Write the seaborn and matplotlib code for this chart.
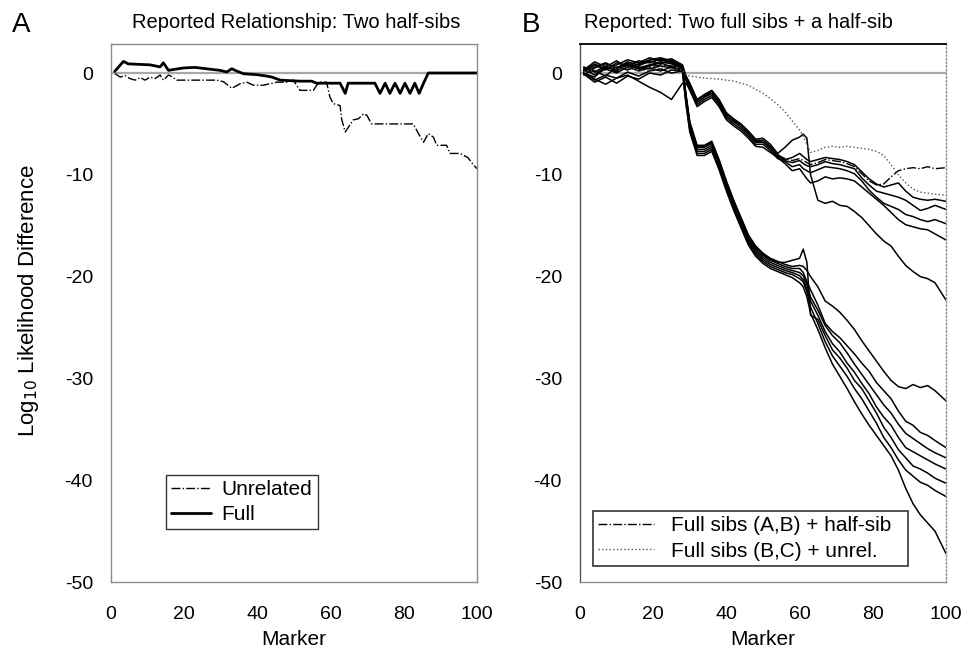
import matplotlib
matplotlib.use("Agg")
import matplotlib.pyplot as plt
import seaborn as sns
import pandas as pd

# ---- panel A: reported two half-sibs ----
a_full_x = [1, 3.4, 4.7, 10.7, 13.4, 14.3, 15.7, 18, 20, 23, 26, 29.8, 31.6, 33, 34.3, 36.2, 39.8, 42.5, 44, 46.2,
            51.6, 54.8, 56.2, 62.6, 64, 64.8, 72.1, 73.5, 74.9, 76.2, 77.6, 79, 80.3, 81.7, 83, 84.2, 85.4, 86.7, 100]
a_full_y = [0.16, 1.14, 0.9, 0.8, 0.6, 1.0, 0.26, 0.4, 0.5, 0.55, 0.42, 0.26, 0.1, 0.42, 0.2, -0.07, -0.16, -0.3, -0.4, -0.7,
            -0.8, -0.8, -1.0, -1.0, -2.0, -1.0, -1.0, -2.0, -1.0, -2.0, -1.0, -2.0, -1.0, -2.0, -1.0, -2.0, -1.0, 0.0, 0.0]

a_unrel_x = [1.1, 2.5, 3.8, 5.2, 6.6, 8, 9.3, 10.7, 12, 13.4, 14.3, 15.7, 16.6, 18, 28.9, 30.7, 33, 35.3, 37.1, 38.9,
             41.6, 43.4, 45.3, 48, 49.8, 51.6, 55.3, 56.2, 57.1, 58.9, 59.8, 60.7, 62.6, 63, 64, 66.2, 67.6, 69, 69.9, 71.2,
             82.6, 84, 85.4, 86.7, 88.1, 89, 91.7, 92.6, 95.4, 97.5, 99, 100]
a_unrel_y = [-0.07, -0.4, -0.25, -0.55, -0.7, -0.45, -0.7, -0.4, -0.55, -0.2, -0.7, -0.2, -0.35, -0.7, -0.7, -0.85, -1.5, -1.05, -0.9, -1.2,
             -1.2, -1.05, -0.9, -0.9, -0.7, -1.7, -1.7, -1.2, -0.9, -0.9, -2.35, -3.0, -3.2, -4.5, -5.8, -4.6, -4.5, -4.0, -4.15, -5.0,
             -5.0, -5.95, -6.8, -5.95, -6.3, -7.1, -7.1, -7.9, -7.9, -8.3, -9.0, -9.4]

# ---- panel B: reported two full sibs + a half-sib ----
b_markers = [1, 4, 7, 10, 13, 16, 19, 22, 25, 28, 29, 30, 32, 34, 36, 38, 40, 42, 44, 46,
             48, 50, 52, 54, 56, 58, 60, 61, 62, 63, 65, 67, 69, 71, 73, 75, 77, 79, 81, 83,
             85, 87, 89, 91, 93, 95, 97, 100]

# steep group
b_s1 = [0.2, 0.8, 0.3, 1.0, 0.7, 1.2, 1.0, 1.4, 1.1, 0.6,
        -2.2, -4.8, -7.1, -7.1, -6.7, -8.5, -10.6, -12.5, -14.2, -15.9, -17.0, -17.7, -18.2, -18.5, -18.8, -19.0,
        -18.9, -19.0, -19.4, -20.0, -21.0, -22.4, -22.9, -23.5, -24.3, -25.2, -26.3, -27.3, -28.3, -29.3, -30.2,
        -30.8, -31.0, -30.6, -30.9, -30.7, -31.2, -32.2]
b_s2 = [0.0, -0.4, 0.6, 0.2, 0.9, 0.5, 0.8, 1.1, 0.9, 0.4,
        -2.4, -5.0, -7.3, -7.3, -6.9, -8.7, -10.8, -12.7, -14.4, -16.1, -17.2, -17.9, -18.4, -18.7, -19.0, -19.2,
        -19.2, -19.6, -20.5, -21.3, -22.8, -24.6, -25.4, -26.0, -26.8, -27.6, -28.5, -29.3, -30.4, -31.2, -32.0,
        -33.2, -34.2, -34.6, -35.3, -35.6, -36.1, -36.8]
b_s3 = [0.5, 0.2, -0.3, 0.6, 0.3, 0.7, 1.2, 0.9, 1.3, 0.5,
        -2.6, -5.2, -7.5, -7.5, -7.1, -8.9, -11.0, -12.9, -14.6, -16.3, -17.4, -18.1, -18.6, -18.9, -19.2, -19.4,
        -19.6, -19.9, -20.8, -22.0, -23.3, -24.8, -25.8, -26.5, -27.5, -28.6, -29.6, -30.6, -31.6, -32.6, -33.4,
        -34.5, -35.4, -35.9, -36.4, -36.9, -37.3, -37.8]
b_s4 = [-0.2, 0.5, 0.9, 0.4, 1.0, 0.6, 0.4, 0.7, 0.5, 0.3,
        -2.8, -5.4, -7.7, -7.7, -7.3, -9.1, -11.2, -13.1, -14.8, -16.5, -17.6, -18.3, -18.8, -19.1, -19.4, -19.6,
        -19.9, -20.3, -21.2, -22.4, -23.8, -25.4, -26.6, -27.4, -28.5, -29.4, -30.5, -31.5, -32.8, -33.8, -34.6,
        -35.8, -36.8, -37.2, -37.6, -38.0, -38.4, -38.9]
b_s5 = [0.3, 1.1, 0.6, 1.2, 0.5, 0.9, 1.3, 1.5, 1.2, 0.7,
        -2.3, -4.9, -7.2, -7.2, -6.8, -8.6, -10.7, -12.6, -14.3, -16.0, -17.1, -17.8, -18.3, -18.6, -18.6, -18.4,
        -18.2, -17.3, -18.6, -23.8, -24.2, -25.8, -27.2, -28.0, -29.0, -30.2, -31.0, -32.2, -33.4, -34.8, -35.8,
        -37.0, -37.8, -38.6, -38.9, -39.3, -39.8, -40.3]
b_s6 = [0.0, -0.7, -0.2, -0.5, 0.1, -0.3, 0.2, 0.4, 0.0, 0.2,
        -3.0, -5.6, -7.9, -7.9, -7.5, -9.3, -11.4, -13.3, -15.0, -16.7, -17.8, -18.5, -19.0, -19.3, -19.6, -19.8,
        -20.2, -20.5, -21.5, -23.0, -24.6, -26.4, -27.8, -28.8, -29.8, -31.0, -32.0, -33.2, -34.4, -35.8, -36.8,
        -38.0, -39.0, -39.6, -40.2, -40.5, -41.0, -41.6]
b_s7 = [0.4, -0.2, 0.4, 0.0, 0.6, 0.2, 0.5, 0.2, 0.6, 0.1,
        -3.2, -5.8, -8.1, -8.1, -7.7, -9.5, -11.6, -13.5, -15.2, -16.9, -18.0, -18.7, -19.2, -19.5, -19.8, -20.1,
        -20.6, -21.0, -22.0, -23.6, -25.2, -27.0, -28.6, -29.8, -31.0, -32.3, -33.5, -34.6, -35.6, -36.6, -37.6,
        -39.0, -40.8, -42.3, -43.4, -44.2, -45.0, -47.2]

# slower group
b_g1 = [0.1, 0.6, 1.0, 0.5, 1.1, 0.8, 1.1, 1.3, 1.0, 0.5,
        -0.4, -1.1, -2.7, -2.2, -1.8, -2.7, -4.0, -4.6, -5.1, -5.8, -6.6, -6.6, -7.2,
        -8.0, -8.5, -8.3, -7.9, -8.2, -8.5, -8.7, -8.5, -8.3, -8.4, -8.5, -8.7, -9.0, -9.7, -10.4, -10.9, -11.2,
        -11.0, -10.8, -11.6, -12.2, -12.4, -12.5, -12.4, -12.6]
b_g2 = [-0.1, -0.9, -0.4, -1.0, -0.3, -0.6, 0.0, -0.2, 0.3, 0.2,
        -0.6, -1.3, -2.9, -2.4, -2.0, -2.9, -4.2, -4.8, -5.3, -6.0, -6.8, -6.8, -7.4,
        -8.2, -8.6, -8.8, -8.6, -8.9, -9.1, -9.2, -9.0, -8.7, -8.9, -9.0, -9.2, -9.4, -10.3, -11.0, -11.6, -11.8,
        -12.0, -12.2, -12.5, -13.0, -13.5, -13.3, -13.0, -13.4]
b_g3 = [0.6, 0.1, 0.7, 0.3, 0.8, 0.4, 0.7, 1.0, 0.6, 0.3,
        -0.8, -1.5, -3.1, -2.6, -2.2, -3.1, -4.4, -5.0, -5.5, -6.2, -7.0, -7.0, -7.6,
        -8.4, -8.7, -9.2, -9.0, -9.4, -9.6, -9.8, -9.5, -9.2, -9.3, -9.4, -9.6, -9.9, -10.6, -11.5, -12.2, -12.8,
        -13.1, -13.4, -13.9, -14.1, -14.4, -14.6, -14.4, -14.8]
b_g4 = [0.0, -0.6, -1.1, -0.5, -0.2, -0.8, -1.4, -1.9, -2.6, -1.0,
        -1.0, -1.7, -3.3, -2.8, -2.4, -3.3, -4.6, -5.2, -5.7, -6.4, -7.2, -7.3, -7.8,
        -8.3, -8.9, -9.6, -9.4, -9.9, -10.4, -10.8, -10.6, -10.2, -10.4, -10.3, -10.4, -10.6, -11.2, -11.8, -12.4, -13.0,
        -13.7, -14.4, -14.9, -15.1, -15.3, -15.4, -15.8, -16.4]
b_g5 = [0.2, 0.9, 0.4, 0.8, 1.3, 1.0, 1.5, 1.2, 1.4, 0.8,
        -0.3, -1.0, -2.6, -2.1, -1.7, -2.6, -3.9, -4.5, -5.0, -5.7, -6.5, -6.4, -7.0,
        -7.9, -7.3, -6.6, -6.3, -6.0, -6.4, -10.0, -12.5, -12.8, -12.6, -13.0, -13.1, -13.6, -14.2, -15.0, -15.8, -16.5,
        -17.0, -18.0, -18.9, -19.5, -20.0, -20.2, -20.6, -22.3]

# highlighted alternatives
b_ab_half = [0.3, 0.0, 0.5, 0.1, 0.6, 0.3, 0.6, 0.8, 0.7, 0.4,
             -0.5, -1.2, -2.8, -2.3, -1.9, -2.8, -4.1, -4.7, -5.2, -5.9, -6.7, -6.7, -7.3,
             -8.1, -8.4, -8.6, -8.4, -8.6, -8.8, -9.0, -8.8, -8.5, -8.6, -8.7, -8.9, -9.2, -9.9, -10.6, -11.0, -10.9,
             -10.2, -9.6, -9.4, -9.3, -9.4, -9.2, -9.4, -9.3]
b_bc_unrel = [0.1, 0.4, 0.8, 0.4, 0.6, 0.2, 0.3, 0.5, 0.4, 0.3,
              -0.2, -0.3, -0.4, -0.5, -0.55, -0.6, -0.7, -0.8, -1.0, -1.2, -1.6, -2.0, -2.5,
              -3.1, -3.8, -4.7, -5.6, -6.2, -7.0, -7.8, -7.6, -7.3, -7.2, -7.3, -7.2, -7.3, -7.4, -7.5, -7.7, -8.1,
              -9.0, -10.0, -10.8, -11.4, -11.7, -11.8, -11.9, -12.0]

solid_lines = {"s1": b_s1, "s2": b_s2, "s3": b_s3, "s4": b_s4, "s5": b_s5, "s6": b_s6, "s7": b_s7,
               "g1": b_g1, "g2": b_g2, "g3": b_g3, "g4": b_g4, "g5": b_g5}
df_b = pd.concat([pd.DataFrame({"marker": b_markers, "value": v, "line": k}) for k, v in solid_lines.items()])

sns.set_style("white")
plt.rcParams["font.family"] = ["Liberation Sans", "DejaVu Sans"]
plt.rcParams["axes.unicode_minus"] = False
plt.rcParams["text.color"] = "black"
plt.rcParams["xtick.color"] = "black"
plt.rcParams["ytick.color"] = "black"
plt.rcParams["axes.labelcolor"] = "black"

fig = plt.figure(figsize=(9.63, 6.49), dpi=100)
ax_a = fig.add_axes([0.1153, 0.1032, 0.380, 0.829])
ax_b = fig.add_axes([0.6023, 0.1032, 0.380, 0.829])

for ax in (ax_a, ax_b):
    ax.axhline(0, color="#a8a8a8", lw=1.6, zorder=1)

sns.lineplot(x=a_unrel_x, y=a_unrel_y, ax=ax_a, color="black", lw=1.0, linestyle="-.",
             estimator=None, sort=False, label="Unrelated")
sns.lineplot(x=a_full_x, y=a_full_y, ax=ax_a, color="black", lw=2.0,
             estimator=None, sort=False, label="Full")

sns.lineplot(data=df_b, x="marker", y="value", units="line", estimator=None, ax=ax_b,
             color="black", lw=1.1, legend=False)
sns.lineplot(x=b_markers, y=b_ab_half, ax=ax_b, color="black", lw=1.0, linestyle="-.",
             estimator=None, label="Full sibs (A,B) + half-sib")
sns.lineplot(x=b_markers, y=b_bc_unrel, ax=ax_b, color="#555555", lw=1.0, linestyle=":",
             estimator=None, label="Full sibs (B,C) + unrel.")

for ax in (ax_a, ax_b):
    ax.set_xlim(0, 100)
    ax.set_ylim(-50, 2.85)
    ax.set_xticks([0, 20, 40, 60, 80, 100])
    ax.set_yticks([0, -10, -20, -30, -40, -50])
    ax.tick_params(axis="both", length=0, labelsize=14, colors="black")
    ax.tick_params(axis="x", pad=17)
    ax.tick_params(axis="y", pad=13)
    ax.set_xlabel("Marker", fontsize=15, labelpad=5, color="black")
    ax.set_ylabel("")
    for s in ax.spines.values():
        s.set_color("#8c8c8c")
        s.set_linewidth(1.0)

ax_b.spines["top"].set_color("black")
ax_b.spines["top"].set_linewidth(1.3)
ax_b.spines["left"].set_color("#555555")
ax_b.spines["right"].set_linestyle(":")

leg_a = ax_a.legend(loc="lower left", bbox_to_anchor=(0.15, 0.098, 0.416, 0.128), mode="expand",
                    fontsize=15, handlelength=1.9, handletextpad=0.5, borderaxespad=0,
                    fancybox=False, frameon=True, borderpad=0.25, labelspacing=0.3)
leg_a.get_frame().set_edgecolor("black")
leg_a.get_frame().set_linewidth(1.0)

leg_b = ax_b.legend(loc="lower left", bbox_to_anchor=(0.035, 0.03, 0.861, 0.113), mode="expand",
                    fontsize=15, handlelength=2.7, handletextpad=0.8, borderaxespad=0,
                    fancybox=False, frameon=True, borderpad=0.25, labelspacing=0.3)
leg_b.get_frame().set_edgecolor("black")
leg_b.get_frame().set_linewidth(1.2)

fig.text(0.03, 0.537, "Log$_{10}$ Likelihood Difference", rotation=90, fontsize=16,
         ha="center", va="center")
fig.text(0.012, 0.962, "A", fontsize=20, va="center")
fig.text(0.542, 0.962, "B", fontsize=20, va="center")
fig.text(0.137, 0.966, "Reported Relationship: Two half-sibs", fontsize=14.5, va="center")
fig.text(0.606, 0.966, "Reported: Two full sibs + a half-sib", fontsize=14.5, va="center")

fig.savefig("out.png", dpi=100)
